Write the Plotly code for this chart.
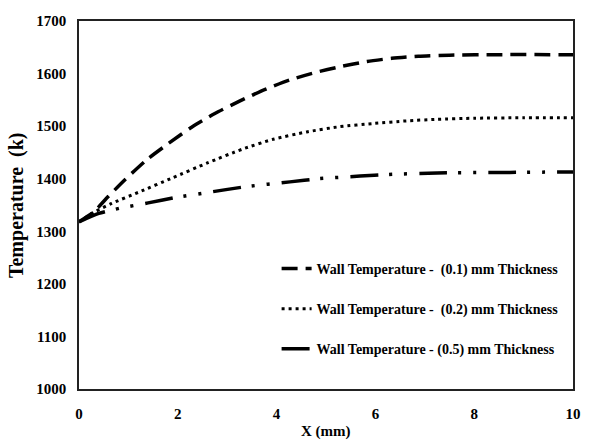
import plotly.graph_objects as go

x1 = [0, 0.3, 0.59, 0.93, 1.37, 1.81, 2.28, 2.75, 3.26, 3.77, 4.27, 4.78, 5.28, 5.83, 6.33, 6.87, 7.5, 8.5, 10.0]
y1 = [1318, 1337, 1366, 1398, 1436, 1467, 1498, 1524, 1548, 1570, 1588, 1602, 1613, 1623, 1629, 1633, 1635, 1636, 1636]

x2 = [0, 0.3, 0.66, 1.2, 1.9, 2.6, 3.3, 3.93, 4.61, 5.28, 5.96, 6.63, 7.24, 8.0, 9.0, 10.0]
y2 = [1318, 1336, 1353, 1374, 1402, 1430, 1456, 1475, 1489, 1499, 1505, 1510, 1513, 1515, 1516, 1516]

x3 = [0, 0.4, 0.83, 1.4, 1.94, 2.55, 3.39, 4.27, 4.85, 5.69, 6.26, 7.25, 8.72, 10.0]
y3 = [1318, 1334, 1344, 1354, 1364, 1373, 1385, 1394, 1400, 1405, 1408, 1411, 1412, 1413]

names = [
    "Wall Temperature -  (0.1) mm Thickness",
    "Wall Temperature -  (0.2) mm Thickness",
    "Wall Temperature - (0.5) mm Thickness",
]

x_ticks = [0, 2, 4, 6, 8, 10]
y_ticks = [1000, 1100, 1200, 1300, 1400, 1500, 1600, 1700]

FONT = "'Liberation Serif', 'Times New Roman', 'DejaVu Serif', serif"

fig = go.Figure()
fig.add_trace(go.Scatter(x=x1, y=y1, mode="lines", name=names[0], legendgroup="a",
                         line=dict(color="black", width=3.5, dash="16px,8px",
                                   shape="spline", smoothing=0.6)))
fig.add_trace(go.Scatter(x=x2, y=y2, mode="lines", name=names[1], legendgroup="b",
                         line=dict(color="black", width=3, dash="3px,4px",
                                   shape="spline", smoothing=0.6)))
fig.add_trace(go.Scatter(x=x3, y=y3, mode="lines", name=names[2], legendgroup="c",
                         line=dict(color="black", width=3.5, dash="28px,11px,3px,12px,3px,12px",
                                   shape="spline", smoothing=0.6)))

fig.update_layout(
    width=592, height=443,
    margin=dict(l=79, r=19, t=21, b=54),
    paper_bgcolor="white", plot_bgcolor="white",
    font=dict(family=FONT, color="black"),
    showlegend=True,
    legend=dict(x=0.40, y=0.37, xanchor="left", yanchor="top",
                bgcolor="rgba(0,0,0,0)", tracegroupgap=19,
                font=dict(family=FONT, size=14, weight="bold")),
    xaxis=dict(range=[0, 10], tickvals=x_ticks, showgrid=False, zeroline=False,
               showline=True, linecolor="#222", linewidth=1.5, mirror=True,
               ticks="", ticklabelstandoff=10,
               tickfont=dict(family=FONT, size=15, weight="bold")),
    yaxis=dict(range=[1000, 1700], tickvals=y_ticks, showgrid=False, zeroline=False,
               showline=True, linecolor="#222", linewidth=1.5, mirror=True,
               ticks="", ticklabelstandoff=8,
               tickfont=dict(family=FONT, size=15, weight="bold")),
    annotations=[
        dict(text="Temperature  (k)", x=-0.1275, y=0.5, xref="paper", yref="paper",
             xanchor="center", yanchor="middle", textangle=-90, showarrow=False,
             font=dict(family=FONT, size=20, weight="bold")),
        dict(text="X (mm)", x=0.5, y=-0.115, xref="paper", yref="paper",
             xanchor="center", yanchor="middle", showarrow=False,
             font=dict(family=FONT, size=15, weight="bold")),
    ],
)

fig.write_html("out.html")
